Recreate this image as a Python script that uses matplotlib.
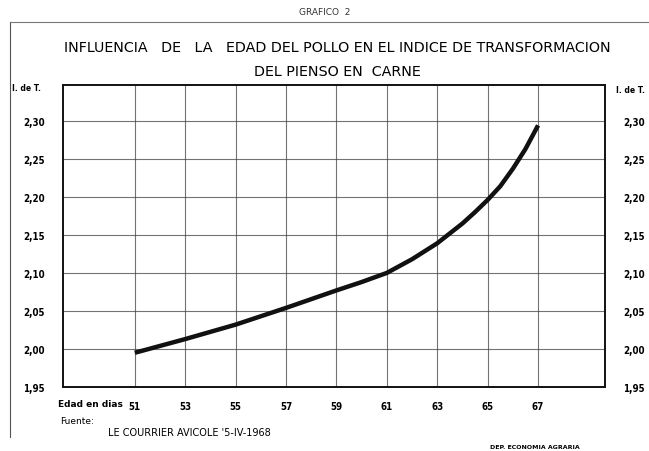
import matplotlib
matplotlib.use("Agg")
import matplotlib.pyplot as plt

# edad del pollo (dias) e indice de transformacion
edad = [51, 53, 55, 57, 59, 60, 61, 62, 63, 63.5, 64, 64.5, 65, 65.5, 66, 66.5, 67]
indice = [1.995, 2.013, 2.032, 2.054, 2.077, 2.088, 2.100, 2.118, 2.139, 2.152, 2.165, 2.180,
          2.196, 2.214, 2.237, 2.263, 2.294]

x_ticks = [51, 53, 55, 57, 59, 61, 63, 65, 67]
x_labels = ["51", "53", "55", "57", "59", "61", "63", "65", "67"]
y_ticks = [1.95, 2.00, 2.05, 2.10, 2.15, 2.20, 2.25, 2.30]
y_labels = ["1,95", "2,00", "2,05", "2,10", "2,15", "2,20", "2,25", "2,30"]

plt.rcParams['font.family'] = ['DejaVu Sans']

fig = plt.figure(figsize=(6.49, 4.52), dpi=100)
ax = fig.add_axes([0.097, 0.1416, 0.835, 0.668])

ax.plot(edad, indice, color="#111111", lw=3.2, solid_capstyle="butt", solid_joinstyle="round")

ax.set_xlim(48.15, 69.65)
ax.set_ylim(1.95, 2.347)
ax.set_xticks(x_ticks)
ax.set_xticklabels(x_labels, fontsize=7, fontweight="bold", fontstretch="condensed")
ax.set_yticks(y_ticks)
ax.set_yticklabels(y_labels, fontsize=7, fontweight="bold", fontstretch="condensed")
ax.tick_params(axis="y", length=0, labelleft=True, labelright=True, pad=13)
ax.tick_params(axis="x", length=0, pad=10)
ax.grid(True, color="#444444", lw=0.8, alpha=0.75)
for s in ax.spines.values():
    s.set_linewidth(1.4)
    s.set_color("#111111")

# page frame from the scan
fig.add_artist(plt.Line2D([0.016, 0.016], [0.03, 0.95], color="#555555", lw=0.8))
fig.add_artist(plt.Line2D([0.016, 1.0], [0.95, 0.95], color="#777777", lw=0.8))

fig.text(0.5, 0.972, "GRAFICO  2", ha="center", va="center", fontsize=6.5, color="#333333")
fig.text(0.52, 0.893, "INFLUENCIA   DE   LA   EDAD DEL POLLO EN EL INDICE DE TRANSFORMACION",
         ha="center", va="center", fontsize=10.3)
fig.text(0.52, 0.84, "DEL PIENSO EN  CARNE", ha="center", va="center", fontsize=10.3)
fig.text(0.04, 0.805, "I. de T.", ha="center", va="center", fontsize=5.5, fontweight="bold")
fig.text(0.972, 0.8, "I. de T.", ha="center", va="center", fontsize=5.5, fontweight="bold")
fig.text(0.09, 0.104, "Edad en dias", ha="left", va="center", fontsize=6.5, fontweight="bold")
fig.text(0.093, 0.068, "Fuente:", ha="left", va="center", fontsize=6.5)
fig.text(0.167, 0.042, "LE COURRIER AVICOLE '5-IV-1968", ha="left", va="center", fontsize=7)
fig.text(0.755, 0.01, "DEP. ECONOMIA AGRARIA", ha="left", va="center", fontsize=4.5, fontweight="bold")

fig.savefig("out.png", dpi=100)
